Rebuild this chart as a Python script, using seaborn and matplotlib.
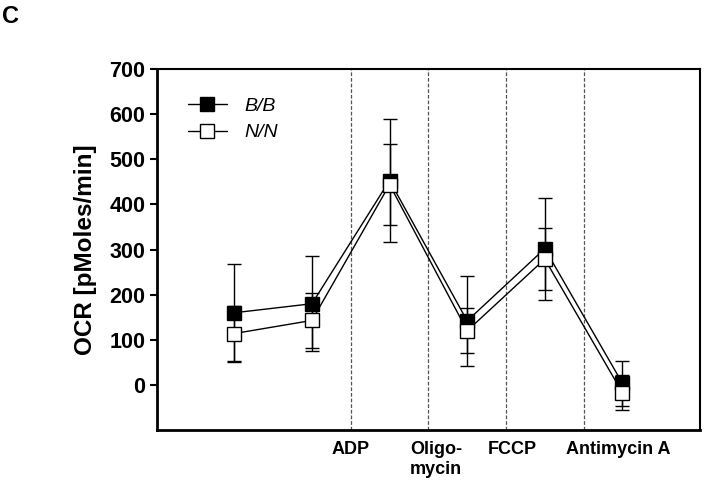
import matplotlib
matplotlib.use("Agg")
import matplotlib.pyplot as plt
import seaborn as sns
import pandas as pd
import numpy as np
from matplotlib.lines import Line2D

# Data
timepoints = [1, 2, 3, 4, 5, 6]
bb_mean = [160, 180, 453, 142, 302, 4]
bb_err = [107, 105, 137, 100, 113, 50]
nn_mean = [114, 143, 444, 120, 279, -17]
nn_err = [62, 60, 90, 50, 68, 39]
injection_lines = [2.5, 3.5, 4.5, 5.5]
injection_labels = ["ADP", "Oligo-\nmycin", "FCCP", "Antimycin A"]
label_positions = [2.5, 3.6, 4.58, 5.95]
y_ticks = [0, 100, 200, 300, 400, 500, 600, 700]

sns.set_style("ticks")
plt.rcParams['font.family'] = ['Liberation Sans', 'DejaVu Sans']
plt.rcParams['text.color'] = 'black'
plt.rcParams['axes.labelcolor'] = 'black'
plt.rcParams['xtick.color'] = 'black'
plt.rcParams['ytick.color'] = 'black'
plt.rcParams['axes.edgecolor'] = 'black'

df = pd.DataFrame({
    "t": timepoints * 2,
    "ocr": bb_mean + nn_mean,
    "genotype": ["B/B"] * 6 + ["N/N"] * 6,
})

fig = plt.figure(figsize=(7.06, 4.86), dpi=100)
ax = fig.add_axes([0.222, 0.115, 0.7695, 0.743])

for xv in injection_lines:
    ax.axvline(xv, color="#555555", lw=0.9, ls=(0, (3, 1.5)), zorder=1)

ax.errorbar(timepoints, bb_mean, yerr=bb_err, fmt="none", ecolor="black",
            elinewidth=1.0, capsize=5, capthick=1.0, zorder=2)
ax.errorbar(timepoints, nn_mean, yerr=nn_err, fmt="none", ecolor="black",
            elinewidth=1.0, capsize=5, capthick=1.0, zorder=2)

sns.lineplot(data=df[df.genotype == "B/B"], x="t", y="ocr", ax=ax, color="black",
             lw=1.0, marker="s", markersize=9.5, markerfacecolor="black",
             markeredgecolor="black", markeredgewidth=1.0, zorder=3, legend=False)
sns.lineplot(data=df[df.genotype == "N/N"], x="t", y="ocr", ax=ax, color="black",
             lw=1.0, marker="s", markersize=9.5, markerfacecolor="white",
             markeredgecolor="black", markeredgewidth=1.0, zorder=4, legend=False)

ax.set_xlim(0, 7)
ax.set_ylim(-100, 700)
ax.set_yticks(y_ticks)
ax.set_yticklabels([str(v) for v in y_ticks], fontsize=15.5, fontweight="bold")
ax.set_xticks(label_positions)
ax.set_xticklabels(injection_labels, fontsize=13, fontweight="bold", linespacing=1.25)
ax.tick_params(axis="x", length=0, pad=8)
ax.tick_params(axis="y", length=5, width=1.5, pad=3, direction="out")
ax.set_xlabel("")
ax.set_ylabel("OCR [pMoles/min]", fontsize=17.5, fontweight="bold", labelpad=9)

for side in ["left", "bottom"]:
    ax.spines[side].set_linewidth(2.0)
for side in ["top", "right"]:
    ax.spines[side].set_visible(True)
    ax.spines[side].set_linewidth(1.5)

handles = [
    Line2D([0], [0], color="black", lw=1.0, marker="s", markersize=9.5,
           markerfacecolor="black", markeredgecolor="black"),
    Line2D([0], [0], color="black", lw=1.0, marker="s", markersize=9.5,
           markerfacecolor="white", markeredgecolor="black"),
]
leg = ax.legend(handles, ["B/B", "N/N"], loc="upper left", bbox_to_anchor=(0.025, 0.97),
                frameon=False, prop={"size": 14, "style": "italic"},
                handlelength=2.0, labelspacing=0.45, handletextpad=0.9)

fig.text(0.003, 0.99, "C", fontsize=17, fontweight="bold", va="top")

fig.savefig("out.png", dpi=100)
